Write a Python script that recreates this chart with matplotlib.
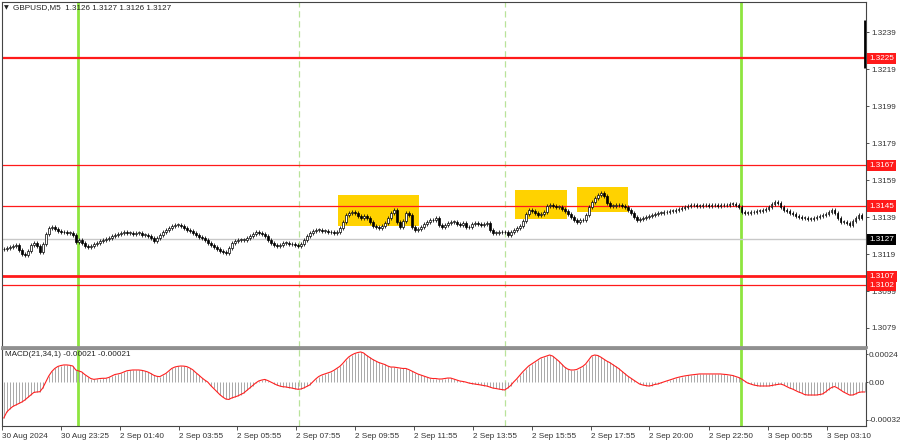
import matplotlib
matplotlib.use("Agg")
import matplotlib.pyplot as plt
import matplotlib.transforms as mtransforms
import numpy as np

# ---------------- data ----------------
symbol_title = "GBPUSD,M5  1.3126 1.3127 1.3126 1.3127"
macd_title = "MACD(21,34,1) -0.00021 -0.00021"
base_price = 1.3100
# closes, pips above 1.3100, one per M5 bar
closes_pips = [
    21.7, 22.3, 22.8, 23.4, 23.9, 21.2, 19.0, 18.5, 20.7, 23.9,
    25.0, 23.4, 20.1, 24.4, 29.9, 33.1, 33.6, 32.6, 31.5, 30.9,
    30.9, 30.4, 30.4, 29.3, 25.5, 26.6, 25.0, 23.4, 22.8, 23.4,
    24.4, 25.0, 26.1, 26.6, 27.1, 27.7, 28.8, 29.3, 29.9, 30.4,
    30.9, 30.4, 30.4, 29.9, 30.4, 30.4, 29.3, 29.3, 28.8, 27.7,
    26.1, 27.7, 29.3, 30.9, 32.0, 33.1, 34.2, 34.7, 34.7, 34.2,
    33.1, 32.0, 31.5, 30.4, 29.3, 28.2, 27.7, 26.6, 25.0, 23.9,
    22.8, 21.7, 20.7, 20.1, 19.6, 22.3, 25.0, 26.1, 26.6, 26.6,
    26.6, 27.7, 28.8, 29.9, 30.9, 30.4, 29.9, 28.8, 26.6, 25.0,
    23.9, 23.4, 23.9, 25.0, 25.0, 24.4, 24.4, 23.9, 23.4, 24.4,
    26.6, 28.8, 30.4, 31.5, 32.0, 32.0, 31.5, 31.5, 30.9, 30.9,
    30.4, 30.9, 33.1, 36.4, 40.1, 41.2, 41.7, 41.2, 39.6, 38.5,
    39.6, 38.5, 36.4, 34.2, 33.6, 33.1, 34.2, 35.8, 38.5, 41.2,
    42.8, 36.4, 33.6, 36.9, 41.2, 40.1, 33.6, 32.0, 32.6, 33.6,
    35.3, 36.4, 37.4, 37.4, 38.5, 34.7, 33.6, 34.7, 35.8, 36.4,
    36.4, 35.3, 34.7, 35.8, 33.6, 33.6, 35.3, 35.8, 35.3, 34.7,
    35.3, 35.8, 32.0, 30.4, 30.4, 30.9, 30.9, 30.9, 29.3, 30.9,
    32.0, 33.1, 34.2, 36.9, 40.7, 42.8, 42.3, 41.2, 40.1, 40.7,
    41.7, 45.0, 45.5, 45.0, 44.5, 44.5, 43.4, 42.3, 40.7, 39.1,
    37.4, 36.4, 37.4, 37.4, 40.1, 44.5, 47.2, 49.4, 51.0, 52.0,
    50.4, 46.6, 45.0, 45.0, 45.5, 45.5, 45.0, 44.5, 42.8, 41.2,
    39.1, 37.4, 38.0, 38.5, 39.1, 39.6, 40.1, 40.7, 41.2, 41.2,
    41.7, 41.7, 42.3, 42.3, 42.8, 43.4, 43.9, 44.5, 45.0, 45.5,
    45.5, 45.0, 45.0, 45.5, 45.5, 45.0, 45.5, 45.5, 45.0, 45.5,
    45.5, 45.5, 46.1, 46.1, 45.5, 44.5, 41.7, 41.2, 41.2, 41.7,
    41.7, 42.3, 42.3, 42.8, 43.4, 44.5, 46.1, 47.2, 46.6, 44.5,
    42.8, 42.3, 41.2, 40.7, 39.6, 39.1, 38.5, 38.5, 38.0, 38.0,
    38.5, 39.1, 39.6, 40.1, 40.7, 41.7, 42.8, 41.2, 38.5, 36.4,
    36.4, 35.8, 34.7, 36.9, 38.5, 40.1, 38.5,
]
# final (spike) bar, pips above 1.3100
spike_high_pips = 145.7
spike_low_pips = 119.7
# MACD main line, in 1e-5 units, one per bar
macd_1e5 = [
    -30.3, -25.2, -22.6, -20.5, -19.2, -17.9, -16.7, -15.0, -12.8, -10.7,
    -8.5, -8.1, -7.9, -4.7, 0.4, 5.6, 9.4, 12.0, 13.7, 14.5,
    15.0, 15.0, 14.7, 14.1, 10.7, 9.8, 9.0, 6.8, 5.1, 3.4,
    2.7, 3.0, 3.4, 3.6, 3.6, 4.3, 5.6, 6.8, 7.3, 7.9,
    9.0, 10.0, 10.4, 10.7, 10.7, 10.7, 10.4, 9.8, 9.0, 7.7,
    6.2, 5.3, 5.0, 6.4, 7.7, 9.8, 12.0, 13.2, 13.8, 14.1,
    14.0, 13.6, 12.4, 10.9, 8.5, 6.4, 4.1, 2.1, 0.4, -2.6,
    -5.1, -7.7, -10.3, -12.4, -14.1, -14.5, -13.2, -12.4, -11.5, -10.3,
    -9.0, -6.8, -4.7, -2.6, -0.4, 1.3, 2.1, 2.6, 1.7, 0.4,
    -0.9, -2.1, -3.0, -3.6, -3.8, -4.3, -4.7, -5.3, -5.8, -5.6,
    -4.7, -3.4, -2.1, 0.4, 3.0, 5.1, 6.4, 7.3, 8.1, 9.0,
    10.3, 12.0, 13.7, 16.2, 19.2, 21.8, 23.5, 24.8, 25.6, 26.1,
    25.2, 23.1, 21.4, 19.7, 18.4, 17.1, 16.2, 15.4, 14.1, 13.2,
    13.2, 12.8, 12.4, 12.0, 12.0, 11.1, 9.8, 8.5, 7.3, 6.4,
    5.6, 4.7, 3.8, 3.4, 3.4, 3.0, 3.0, 3.4, 3.8, 3.8,
    3.0, 2.1, 1.3, 0.9, 0.4, -0.4, -0.9, -1.3, -1.7, -2.1,
    -2.6, -3.0, -3.8, -4.7, -5.1, -5.6, -6.0, -6.4, -4.7, -2.6,
    0.4, 3.0, 6.0, 9.0, 11.5, 14.1, 15.8, 17.5, 19.2, 20.9,
    21.8, 22.6, 23.5, 22.6, 20.5, 18.4, 15.8, 13.2, 11.5, 10.7,
    10.7, 11.1, 12.4, 13.7, 15.8, 19.2, 22.6, 23.5, 23.1, 21.8,
    20.1, 18.4, 17.1, 15.4, 13.7, 12.0, 9.8, 7.7, 5.6, 3.8,
    2.1, 0.4, -1.3, -2.1, -2.6, -3.0, -2.6, -1.7, -1.3, -0.4,
    0.4, 1.3, 2.1, 3.0, 3.8, 4.5, 5.1, 5.6, 6.0, 6.4,
    6.7, 7.0, 7.3, 7.3, 7.3, 7.3, 7.3, 7.3, 7.3, 7.3,
    7.0, 6.8, 6.4, 6.0, 5.1, 4.3, 3.0, 1.3, -0.4, -1.3,
    -2.1, -2.6, -3.0, -3.0, -3.0, -3.0, -2.6, -2.1, -1.7, -1.3,
    -2.1, -3.4, -4.7, -5.6, -6.8, -8.1, -9.0, -10.3, -10.7, -10.7,
    -10.7, -10.7, -10.3, -9.8, -8.1, -6.0, -4.3, -3.4, -4.7, -6.4,
    -8.1, -9.4, -10.7, -10.7, -9.8, -8.5, -8.1, -8.1,
]
# x-axis labels and the bar index they sit at
time_labels = ["30 Aug 2024", "30 Aug 23:25", "2 Sep 01:40", "2 Sep 03:55", "2 Sep 05:55",
               "2 Sep 07:55", "2 Sep 09:55", "2 Sep 11:55", "2 Sep 13:55", "2 Sep 15:55",
               "2 Sep 17:55", "2 Sep 20:00", "2 Sep 22:50", "3 Sep 00:55", "3 Sep 03:10"]
time_label_bars = [-0.6, 19.1, 38.6, 58.3, 77.8, 97.5, 117.2, 136.8, 156.4, 176.1,
                   195.7, 215.3, 235.1, 254.7, 274.4]
price_ticks = [1.3239, 1.3219, 1.3199, 1.3179, 1.3159, 1.3139, 1.3119, 1.3099, 1.3079]
macd_ticks = [0.00024, 0.0, -0.00032]
macd_tick_labels = ["0.00024", "0.00", "-0.00032"]
# horizontal levels: price, linewidth
red_levels = [1.3225, 1.3167, 1.3145, 1.3107, 1.3102]
red_level_widths = [1.6, 0.9, 0.9, 2.0, 0.9]
bid_level = 1.3127
# yellow zones: (bar start, bar end, price low, price high)
zone_bar_start = [111.5, 170.5, 191.2]
zone_bar_end = [138.5, 187.8, 208.2]
zone_price_low = [1.31342, 1.31380, 1.31417]
zone_price_high = [1.31510, 1.31537, 1.31553]
# vertical markers (bar index)
green_lines = [24.8, 245.8]
dashed_lines = [98.5, 167.2]

# ---------------- figure ----------------
plt.rcParams['font.family'] = ['Liberation Sans', 'DejaVu Sans']
FS = 5.9
W, H = 900, 441
fig = plt.figure(figsize=(W / 100, H / 100), dpi=100)

def fx(px):
    return px / W

def fy(py):
    return 1 - py / H

ax = fig.add_axes([fx(2), fy(347), fx(864), (345) / H])
axm = fig.add_axes([fx(2), fy(426), fx(864), (77) / H], sharex=ax)

closes = base_price + np.array(closes_pips) / 10000.0
n = len(closes)
idx = np.arange(n)
opens = np.concatenate([[closes[0]], closes[:-1]])
wick = 1.0 / 10000.0
highs = np.maximum(opens, closes) + wick
lows = np.minimum(opens, closes) - wick

# zones (behind candles)
for xs, xe, lo, hi in zip(zone_bar_start, zone_bar_end, zone_price_low, zone_price_high):
    ax.add_patch(plt.Rectangle((xs, lo), xe - xs, hi - lo, facecolor='#ffd200',
                               edgecolor='none', zorder=1))

# levels
for lvl, lw in zip(red_levels, red_level_widths):
    ax.axhline(lvl, color='#ff1a1a', lw=lw, zorder=2)
ax.axhline(bid_level, color='#c8c8c8', lw=1.0, zorder=2)

# vertical lines
for a in (ax, axm):
    for g in green_lines:
        a.axvline(g, color='#8ee53f', lw=2.0, zorder=1.5)
    for d in dashed_lines:
        a.axvline(d, color='#b9e39a', lw=0.9, ls=(0, (5, 3)), zorder=1.5)

# candles
ax.vlines(idx, lows, highs, color='#111111', lw=0.6, zorder=3)
bull = closes >= opens
body_h = np.maximum(np.abs(closes - opens), 0.3 / 10000.0)
body_b = np.minimum(opens, closes)
ax.bar(idx[bull], body_h[bull], bottom=body_b[bull], width=0.62, color='white',
       edgecolor='black', linewidth=0.5, zorder=4)
ax.bar(idx[~bull], body_h[~bull], bottom=body_b[~bull], width=0.62, color='black',
       edgecolor='black', linewidth=0.5, zorder=4)
# spike bar
ax.vlines([n], [base_price + spike_low_pips / 10000.0], [base_price + spike_high_pips / 10000.0],
          color='black', lw=2.0, zorder=4)

ax.set_xlim(-0.5, 287.5)
ax.set_ylim(1.306871, 1.325540)

# price axis
ax.yaxis.tick_right()
ax.set_yticks(price_ticks)
ax.set_yticklabels([f"{p:.4f}" for p in price_ticks])
ax.tick_params(axis='y', labelsize=FS, length=2.5, width=0.6, pad=1.2, colors='#333333')
ax.tick_params(axis='x', bottom=False, labelbottom=False)
for s in ax.spines.values():
    s.set_color('#444444')
    s.set_linewidth(0.8)
ax.spines['bottom'].set_color('#909090')
ax.spines['bottom'].set_linewidth(2.0)

# price tags
tagtr = mtransforms.blended_transform_factory(ax.transAxes, ax.transData)
for lvl in red_levels:
    ax.text(1.004, lvl, f"{lvl:.4f}", transform=tagtr, fontsize=FS, color='white',
            va='center', ha='left', zorder=10, clip_on=False,
            bbox=dict(boxstyle='square,pad=0.25', fc='#ff1a1a', ec='none'))
ax.text(1.004, bid_level, f"{bid_level:.4f}", transform=tagtr, fontsize=FS, color='white',
        va='center', ha='left', zorder=10, clip_on=False,
        bbox=dict(boxstyle='square,pad=0.25', fc='black', ec='none'))

# MACD
macd = np.array(macd_1e5) / 1e5
midx = np.arange(len(macd))
axm.vlines(midx, 0, macd, color='#a8a8a8', lw=0.7, zorder=2)
axm.plot(midx, macd, color='#ff2020', lw=0.8, zorder=3)
axm.set_ylim(-0.0003718, 0.0002863)
axm.yaxis.tick_right()
axm.set_yticks(macd_ticks)
axm.set_yticklabels(macd_tick_labels)
axm.tick_params(axis='y', labelsize=FS, length=1.5, width=0.6, pad=0.5, colors='#333333')
axm.set_xticks(time_label_bars)
axm.set_xticklabels(time_labels, ha='left')
axm.tick_params(axis='x', labelsize=FS, length=3, width=0.6, pad=2, colors='#333333')
for s in axm.spines.values():
    s.set_color('#444444')
    s.set_linewidth(0.8)
axm.spines['top'].set_color('#909090')
axm.spines['top'].set_linewidth(1.5)

# titles
fig.text(fx(4), fy(8), "\u25bc", fontsize=4.5, va='center', ha='left', color='#222222',
         family=['DejaVu Sans'])
fig.text(fx(13), fy(8), symbol_title, fontsize=FS, va='center', ha='left', color='#222222')
fig.text(fx(5), fy(355), macd_title, fontsize=FS, va='center', ha='left', color='#222222')

fig.savefig("out.png", dpi=100, facecolor='white')
